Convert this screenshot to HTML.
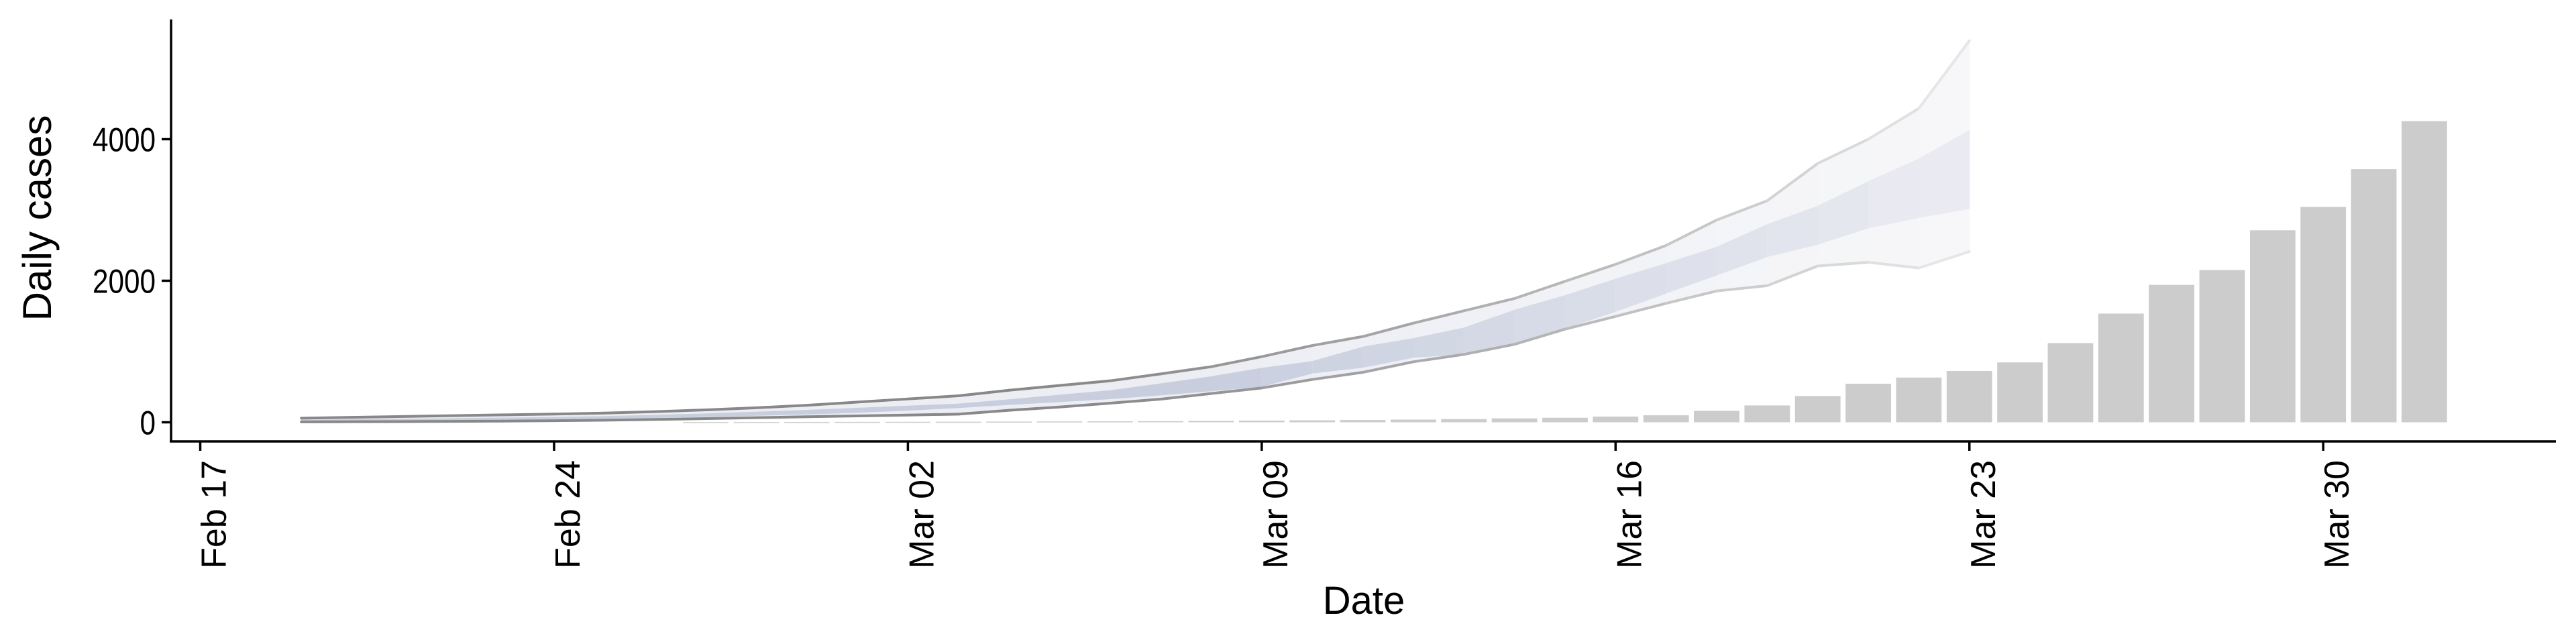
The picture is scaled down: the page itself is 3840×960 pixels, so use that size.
<!DOCTYPE html>
<html><head><meta charset="utf-8"><style>
html,body{margin:0;padding:0;background:#fff;}
svg{display:block;font-family:"Liberation Sans",Arial,sans-serif;}
</style></head><body>
<svg id="chart" width="3840" height="960" viewBox="0 0 3840 960">
<g id="bands"></g>
<g id="bars"></g>
<g id="axes"></g>
</svg>
<script>
// ---- data ----
const barDates = ["2020-02-27","2020-02-28","2020-02-29","2020-03-01","2020-03-02","2020-03-03","2020-03-04","2020-03-05","2020-03-06","2020-03-07","2020-03-08","2020-03-09","2020-03-10","2020-03-11","2020-03-12","2020-03-13","2020-03-14","2020-03-15","2020-03-16","2020-03-17","2020-03-18","2020-03-19","2020-03-20","2020-03-21","2020-03-22","2020-03-23","2020-03-24","2020-03-25","2020-03-26","2020-03-27","2020-03-28","2020-03-29","2020-03-30","2020-03-31","2020-04-01"];
const barValues = [3,4,5,6,7,8,10,12,14,16,20,24,28,32,38,45,55,64,81,99,162,238,371,545,632,725,846,1119,1536,1942,2151,2713,3043,3577,4255];
const bandDates = ["2020-02-19","2020-02-20","2020-02-21","2020-02-22","2020-02-23","2020-02-24","2020-02-25","2020-02-26","2020-02-27","2020-02-28","2020-02-29","2020-03-01","2020-03-02","2020-03-03","2020-03-04","2020-03-05","2020-03-06","2020-03-07","2020-03-08","2020-03-09","2020-03-10","2020-03-11","2020-03-12","2020-03-13","2020-03-14","2020-03-15","2020-03-16","2020-03-17","2020-03-18","2020-03-19","2020-03-20","2020-03-21","2020-03-22","2020-03-23"];
const outerUpper = [58,70,82,94,105,116,130,150,175,205,240,285,330,374,453,520,586,684,785,927,1085,1212,1401,1575,1749,1992,2232,2499,2858,3130,3658,4000,4435,5391];
const outerLower = [6,8,10,13,17,23,30,40,52,65,78,90,102,115,169,216,270,327,406,485,605,706,855,959,1101,1316,1496,1681,1855,1930,2209,2261,2180,2412];
const innerUpper = [35,42,50,58,66,75,88,105,125,150,175,205,235,264,325,390,453,550,650,770,865,1069,1190,1339,1591,1796,2030,2250,2481,2800,3061,3408,3727,4133];
const innerLower = [18,22,26,30,35,42,50,62,76,92,110,135,165,201,245,285,327,380,440,501,690,770,912,959,1117,1322,1560,1820,2075,2336,2510,2742,2887,3014];
const yTicks = [0,2000,4000];
const xTickDates = ["2020-02-17","2020-02-24","2020-03-02","2020-03-09","2020-03-16","2020-03-23","2020-03-30"];
const xTickLabels = ["Feb 17","Feb 24","Mar 02","Mar 09","Mar 16","Mar 23","Mar 30"];

// ---- scales ----
const NS="http://www.w3.org/2000/svg";
const day0 = Date.UTC(2020,1,17);
function dayIndex(s){const p=s.split("-");return (Date.UTC(+p[0],+p[1]-1,+p[2])-day0)/86400000;}
const X0=298.5, DX=75.35;
function xs(s){return X0+dayIndex(s)*DX;}
const Y0=629.5, YK=211/2000;
function ys(v){return Y0-v*YK;}
function mk(tag,attrs,parent){const e=document.createElementNS(NS,tag);for(const k in attrs)e.setAttribute(k,attrs[k]);parent.appendChild(e);return e;}
function mix(a,b,t){return a.map((v,i)=>Math.round(v+(b[i]-v)*t));}
function rgb(c){return `rgb(${c[0]},${c[1]},${c[2]})`;}

// ---- ribbons (segment-wise fading) ----
const bands=document.getElementById("bands");
const n=bandDates.length;
for(let i=0;i<n-1;i++){
  const f=i/(n-2);
  const xa=xs(bandDates[i]), xb=xs(bandDates[i+1])+0.6;
  const fade=Math.max(0,(f-0.55)/0.45);
  const oc=mix([236,238,244],[247,247,249],fade);
  const p1=mk("polygon",{points:`${xa},${ys(outerUpper[i])} ${xb},${ys(outerUpper[i+1])} ${xb},${ys(outerLower[i+1])} ${xa},${ys(outerLower[i])}`,fill:rgb(oc)},bands);
  
  
  const ic=mix([200,206,222],[234,235,242],fade);
  const p2=mk("polygon",{points:`${xa},${ys(innerUpper[i])} ${xb},${ys(innerUpper[i+1])} ${xb},${ys(innerLower[i+1])} ${xa},${ys(innerLower[i])}`,fill:rgb(ic)},bands);
  
  
  const g=Math.round(0x88+(0xe6-0x88)*Math.pow(Math.max(0,(f-0.45)/0.55),1.2));
  const col=`rgb(${g},${g},${g})`;
  const l1=mk("line",{x1:xa,y1:ys(outerUpper[i]),x2:xb-0.6,y2:ys(outerUpper[i+1]),stroke:col,"stroke-width":4,"stroke-linecap":"round"},bands);
  
  
  const l2=mk("line",{x1:xa,y1:ys(outerLower[i]),x2:xb-0.6,y2:ys(outerLower[i+1]),stroke:col,"stroke-width":4,"stroke-linecap":"round"},bands);
  
  
}

// ---- bars ----
const bars=document.getElementById("bars");
const BW=DX*0.9;
barDates.forEach((d,i)=>{
  const v=barValues[i];
  const r=mk("rect",{x:xs(d)-BW/2,y:ys(v),width:BW,height:Math.max(1.5,Y0-ys(v)),fill:"#cccccc"},bars);
  
  
});

// ---- axes ----
const ax=document.getElementById("axes");
const yl=mk("line",{x1:255,y1:29,x2:255,y2:658,stroke:"#000","stroke-width":3.5},ax);


const xl=mk("line",{x1:253,y1:658,x2:3810,y2:658,stroke:"#000","stroke-width":3.5},ax);


yTicks.forEach(v=>{
  const t=mk("line",{x1:241,y1:ys(v),x2:255,y2:ys(v),stroke:"#000","stroke-width":3.5},ax);
  
  
  const s=String(v);
  const tx=mk("text",{x:232,y:ys(v)+18,"text-anchor":"end","font-size":50,fill:"#000",textLength:s.length*23.5,lengthAdjust:"spacingAndGlyphs"},ax);
  tx.textContent=s;
  
  
});
xTickDates.forEach((d,i)=>{
  const x=xs(d);
  const t=mk("line",{x1:x,y1:658,x2:x,y2:672,stroke:"#000","stroke-width":3.5},ax);
  
  
  const tx=mk("text",{x:0,y:0,"text-anchor":"end","font-size":52,fill:"#000",transform:`translate(${x+38},686) rotate(-90)`},ax);
  tx.textContent=xTickLabels[i];
  
  
});
const xt=mk("text",{x:2033,y:915,"text-anchor":"middle","font-size":58,fill:"#000"},ax);
xt.textContent="Date";


const yt=mk("text",{x:0,y:0,"text-anchor":"middle","font-size":60,fill:"#000",transform:"translate(76,325) rotate(-90)"},ax);
yt.textContent="Daily cases";


</script>
</body></html>
